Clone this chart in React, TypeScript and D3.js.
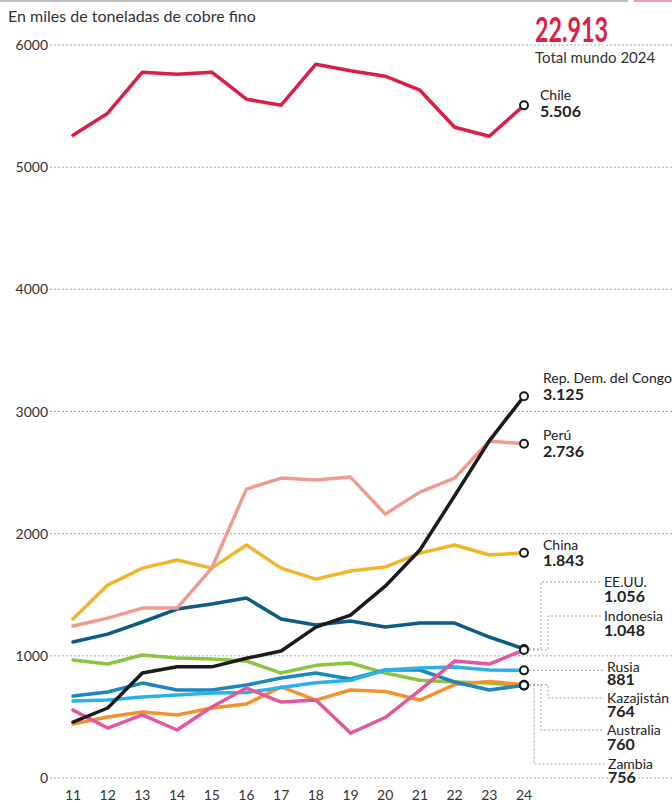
import * as d3 from 'd3'

const years = [11, 12, 13, 14, 15, 16, 17, 18, 19, 20, 21, 22, 23, 24]
const yTicks = [0, 1000, 2000, 3000, 4000, 5000, 6000]

const chile = [5262, 5442, 5777, 5761, 5777, 5556, 5507, 5843, 5790, 5745, 5630, 5327, 5253, 5506]
const congo = [458, 573, 860, 910, 910, 980, 1040, 1235, 1334, 1570, 1866, 2310, 2760, 3125]
const peru = [1244, 1309, 1391, 1391, 1718, 2365, 2455, 2439, 2463, 2160, 2340, 2455, 2758, 2736]
const china = [1301, 1579, 1718, 1784, 1718, 1907, 1718, 1628, 1694, 1727, 1841, 1907, 1825, 1843]
const eeuu = [1113, 1178, 1277, 1383, 1424, 1473, 1301, 1252, 1285, 1236, 1268, 1268, 1154, 1056]
const indonesia = [556, 409, 516, 393, 581, 736, 622, 638, 368, 495, 720, 957, 933, 1048]
const rusia = [630, 638, 663, 679, 696, 700, 740, 780, 800, 884, 900, 908, 884, 881]
const kazajistan = [442, 499, 540, 516, 573, 606, 745, 638, 720, 708, 638, 765, 790, 764]
const australia = [671, 704, 777, 720, 720, 761, 818, 859, 810, 884, 884, 786, 720, 760]
const zambia = [966, 933, 1007, 982, 974, 957, 859, 922, 941, 859, 800, 786, 777, 756]

const totalMundo = '22.913'

// bottom to top drawing order
const series = [
  { name: 'Zambia', label: '756', values: zambia, color: '#8cc43f' },
  { name: 'Kazajistán', label: '764', values: kazajistan, color: '#f3922a' },
  { name: 'Australia', label: '760', values: australia, color: '#1c86bd' },
  { name: 'Rusia', label: '881', values: rusia, color: '#2cb1e6' },
  { name: 'EE.UU.', label: '1.056', values: eeuu, color: '#0f5a86' },
  { name: 'China', label: '1.843', values: china, color: '#f0b52a' },
  { name: 'Perú', label: '2.736', values: peru, color: '#ef9c90' },
  { name: 'Indonesia', label: '1.048', values: indonesia, color: '#e4579d' },
  { name: 'Rep. Dem. del Congo', label: '3.125', values: congo, color: '#1b1b1b' },
  { name: 'Chile', label: '5.506', values: chile, color: '#d91f45' },
]

// label placement: offset from the end point, or a fixed row reached by an elbow leader
const labelLayout: Record<string, { dy?: number; row?: number; elbow?: number; lx?: number; gap: number }> = {
  Chile: { dy: -5, lx: 540, gap: 17 },
  'Rep. Dem. del Congo': { dy: -13, gap: 17 },
  'Perú': { dy: -4, gap: 17 },
  China: { dy: -3, gap: 16 },
  'EE.UU.': { row: 587, elbow: 541, lx: 604, gap: 15 },
  Indonesia: { row: 621, elbow: 548, lx: 604, gap: 15 },
  Rusia: { row: 672, lx: 607, gap: 13 },
  'Kazajistán': { row: 703, elbow: 548, lx: 607, gap: 14 },
  Australia: { row: 735, elbow: 541, lx: 607, gap: 15 },
  Zambia: { row: 769, elbow: 534, lx: 608, gap: 14 },
}

const W = 672
const H = 803
const font = 'Lato, "Open Sans", sans-serif'

export default function App() {
  const x = d3.scaleLinear().domain([11, 24]).range([73, 524])
  const y = d3.scaleLinear().domain([0, 6000]).range([778, 45])

  const line = d3.line<number>()
    .x((_, i) => x(years[i]))
    .y(d => y(d))

  const last = years.length - 1

  return (
    <div style={{ position: 'absolute', left: 0, top: 0 }}>
      <svg width={W} height={H} style={{ display: 'block', background: '#fff' }}>
        <line x1={0} x2={628} y1={1} y2={1} stroke="#bdbdbd" strokeWidth={2} />
        <line x1={634} x2={W} y1={1} y2={1} stroke="#e8a0ac" strokeWidth={2} />

        <text x={8} y={22} fontFamily={font} fontSize={16} fill="#333">
          En miles de toneladas de cobre fino
        </text>

        {yTicks.map(t => (
          <g key={t}>
            <line x1={50} x2={W} y1={y(t)} y2={y(t)} stroke="#a8a8a8" strokeWidth={1} strokeDasharray="2,2" />
            <text x={48} y={y(t) + 5} textAnchor="end" fontFamily={font} fontSize={14} fill="#333">
              {t}
            </text>
          </g>
        ))}

        {years.map(yr => (
          <text key={yr} x={x(yr)} y={800} textAnchor="middle" fontFamily={font} fontSize={14} fill="#333">
            {yr}
          </text>
        ))}

        <text x={535} y={42} fontFamily={font} fontSize={34} fontWeight={700} fill="#d91f45"
          textLength={73} lengthAdjust="spacingAndGlyphs">
          {totalMundo}
        </text>
        <text x={535} y={63} fontFamily={font} fontSize={15} fill="#333">Total mundo 2024</text>

        {/* leader lines */}
        {series.map(s => {
          const lay = labelLayout[s.name]
          if (lay.row === undefined) return null
          const px = x(years[last])
          const py = y(s.values[last])
          const ly = lay.row - 5
          const d = lay.elbow !== undefined
            ? `M${px + 5},${py}H${lay.elbow}V${ly}H${lay.lx! - 3}`
            : `M${px + 5},${py}H${lay.lx! - 3}`
          return <path key={s.name} d={d} fill="none" stroke="#a0a0a0" strokeWidth={1} strokeDasharray="2,2" />
        })}

        {series.map(s => (
          <path key={s.name} d={line(s.values)!} fill="none" stroke={s.color} strokeWidth={3.5}
            strokeLinejoin="round" strokeLinecap="round" />
        ))}

        {series.map(s => (
          <circle key={s.name} cx={x(years[last])} cy={y(s.values[last])} r={4}
            fill="#fff" stroke="#1b1b1b" strokeWidth={2} />
        ))}

        {series.map(s => {
          const lay = labelLayout[s.name]
          const lx = lay.lx ?? 543
          const base = lay.row ?? y(s.values[last]) + (lay.dy ?? 0)
          return (
            <g key={s.name} fontFamily={font} fill="#222">
              <text x={lx} y={base} fontSize={14}>{s.name}</text>
              <text x={lx} y={base + lay.gap} fontSize={16} fontWeight={700}>{s.label}</text>
            </g>
          )
        })}
      </svg>
    </div>
  )
}
